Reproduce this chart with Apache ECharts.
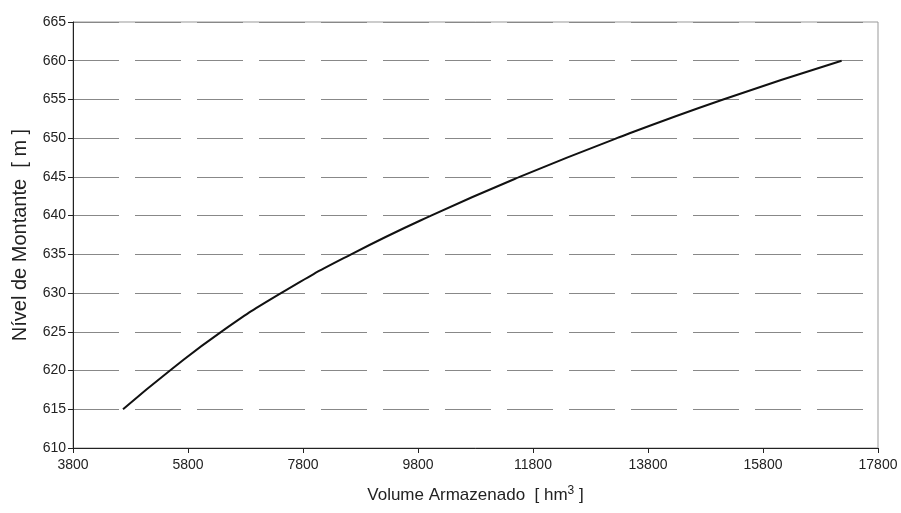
<!DOCTYPE html>
<html>
<head>
<meta charset="utf-8">
<script src="https://cdn.jsdelivr.net/npm/echarts@6/dist/echarts.min.js"></script>
<style>
  html, body { margin: 0; padding: 0; background: #fff; }
  #chart { width: 901px; height: 513px; }
</style>
</head>
<body>
<div id="chart"></div>
<script>
// Storage volume (hm³) against upstream water level (m)
const volume = [4670, 5487, 6377, 7417, 8637, 10027, 11567, 13257, 15107, 17167];
const level  = [615, 620, 625, 630, 635, 640, 645, 650, 655, 660];

const xMin = 3800, xMax = 17800, xStep = 2000;
const yMin = 610, yMax = 665, yStep = 5;

const points = volume.map((v, i) => [v, level[i]]);

const chart = echarts.init(document.getElementById('chart'), null, { renderer: 'canvas' });

const FONT = 'Liberation Sans, Arial, sans-serif';
const labelFont = { fontFamily: FONT, fontSize: 14, color: '#222' };

chart.setOption({
  backgroundColor: '#fff',
  animation: false,
  grid: {
    left: 73, right: 23, top: 22, bottom: 65,
    show: true, borderColor: '#999', borderWidth: 1, backgroundColor: 'transparent'
  },
  xAxis: {
    type: 'value',
    min: xMin, max: xMax, interval: xStep,
    name: 'Volume Armazenado  [ hm{sup|3} ]',
    nameLocation: 'middle',
    nameGap: 37,
    nameTextStyle: {
      fontFamily: FONT, fontSize: 17, color: '#222',
      rich: {
        sup: { fontFamily: FONT, fontSize: 12, color: '#222', verticalAlign: 'bottom', padding: [0, 0, 9, 0] }
      }
    },
    axisLine: { show: true, lineStyle: { color: '#222', width: 1 } },
    axisTick: { show: true, length: 5, inside: false, lineStyle: { color: '#222' } },
    axisLabel: Object.assign({ margin: 10, formatter: v => String(v) }, labelFont),
    splitLine: { show: false }
  },
  yAxis: {
    type: 'value',
    min: yMin, max: yMax, interval: yStep,
    name: 'Nível de Montante  [ m ]',
    nameLocation: 'middle',
    nameGap: 43,
    nameRotate: 90,
    nameTextStyle: { fontFamily: FONT, fontSize: 20, color: '#222' },
    axisLine: { show: true, lineStyle: { color: '#222', width: 1 } },
    axisTick: { show: true, length: 5, inside: false, lineStyle: { color: '#222' } },
    axisLabel: Object.assign({ margin: 7, formatter: v => String(v) }, labelFont),
    splitLine: {
      show: true,
      lineStyle: { color: '#888', width: 1, type: [46, 16], dashOffset: 0 }
    }
  },
  series: [{
    type: 'line',
    data: points,
    smooth: 0.5,
    showSymbol: false,
    lineStyle: { color: '#111', width: 2 },
    z: 5
  }]
});
</script>
</body>
</html>
